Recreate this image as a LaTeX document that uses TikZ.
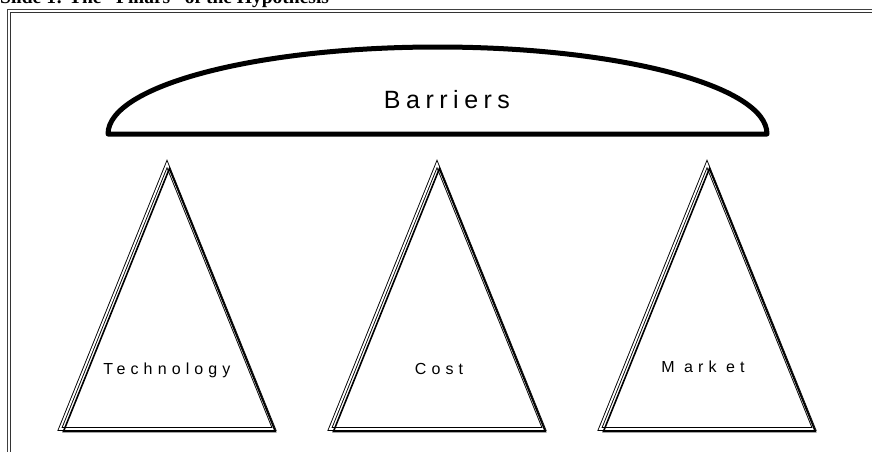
\documentclass[tikz,border=0pt]{standalone}
\usepackage{fontspec}
\setmainfont{Liberation Sans}
\newfontfamily\titlefont{Liberation Serif}
\begin{document}
\begin{tikzpicture}[x=1pt,y=-1pt,
  frameouter/.style={draw=black!75, line width=1.8pt},
  frameinner/.style={draw=black!80, line width=0.9pt},
  dome/.style={draw=black, line width=5pt, line join=round, line cap=round},
  tri/.style={draw=black, line width=0.9pt, double=white, double distance=1.8pt, line join=miter},
  trishadow/.style={draw=black, line width=1.6pt, line join=miter},
  lbl/.style={font=\fontsize{16}{16}\selectfont\addfontfeature{LetterSpace=32}, anchor=base, inner sep=0pt},
  bigl/.style={font=\fontsize{25}{25}\selectfont\addfontfeature{LetterSpace=22}, anchor=base, inner sep=0pt}]
\useasboundingbox (0,0) rectangle (872,451);
% title (mostly cut off by the page edge)
\node[anchor=base west, inner sep=0pt, font=\titlefont\bfseries\fontsize{19.5}{20}\selectfont] (title) at (0,3.5) {Slide 1: The “Pillars” of the Hypothesis};
% frame
\draw[frameouter] (7.5,9.5) rectangle (900,480);
\draw[frameinner] (10.7,12.3) rectangle (897,477);
% barriers dome
\draw[dome] (108,134) arc[start angle=180, end angle=360, x radius=329.5, y radius=87] -- cycle;
\node[bigl] (barriers) at (447,108) {Barriers};
% pillars
\foreach \cx/\nm in {167/t1,437/t2,707/t3}{
  \draw[tri] (\cx,164) coordinate (\nm) -- (\cx-107,429) -- (\cx+107,429) -- cycle;
  \draw[trishadow] ([shift={(2.4,2.6)}]\cx,166) -- ([shift={(2.4,2.6)}]\cx-106,429) -- ([shift={(2.4,2.6)}]\cx+106,429) -- cycle;
}
\node[lbl] (tech) at (167,374) {Technology};
\node[lbl] (cost) at (439,374) {Cost};
\node[lbl] (market) at (703,372) {M ark et};
\end{tikzpicture}
\end{document}
